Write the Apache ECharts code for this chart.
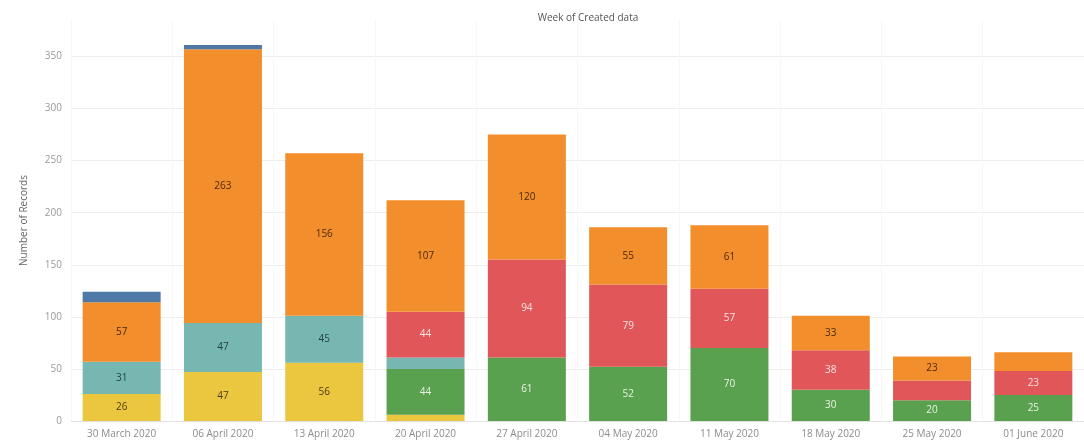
<!DOCTYPE html>
<html>
<head>
<meta charset="utf-8">
<script src="https://cdn.jsdelivr.net/npm/echarts@6/dist/echarts.min.js"></script>
<style>
  html, body { margin: 0; padding: 0; background: #fff; }
  #chart { width: 1084px; height: 443px; }
</style>
</head>
<body>
<div id="chart"></div>
<script>
  // weeks on the x axis
  var weeks = ['30 March 2020', '06 April 2020', '13 April 2020', '20 April 2020', '27 April 2020',
    '04 May 2020', '11 May 2020', '18 May 2020', '25 May 2020', '01 June 2020']
  // stacked segments, bottom to top
  var yellowVals = [26, 47, 56, 6, '-', '-', '-', '-', '-', '-']
  var greenVals = ['-', '-', '-', 44, 61, 52, 70, 30, 20, 25]
  var tealVals = [31, 47, 45, 11, '-', '-', '-', '-', '-', '-']
  var redVals = ['-', '-', '-', 44, 94, 79, 57, 38, 19, 23]
  var orangeVals = [57, 263, 156, 107, 120, 55, 61, 33, 23, 18]
  var blueVals = [10, 4, '-', '-', '-', '-', '-', '-', '-', '-']
  var yTicks = [0, 50, 100, 150, 200, 250, 300, 350]

  var font = 'Open Sans'

  function seg (name, data, color, textColor) {
    return {
      name: name,
      type: 'bar',
      stack: 'total',
      data: data,
      barWidth: 78,
      itemStyle: { color: color },
      label: {
        show: true,
        position: 'inside',
        color: textColor,
        fontFamily: font,
        fontSize: 10,
        formatter: function (p) {
          return p.value >= 20 ? p.value : ''
        }
      }
    }
  }

  var chart = echarts.init(document.getElementById('chart'))
  chart.setOption({
    animation: false,
    textStyle: { fontFamily: font },
    title: {
      text: 'Week of Created data',
      left: 583,
      top: 8,
      textAlign: 'center',
      textStyle: { fontSize: 10, fontWeight: 'normal', color: '#555', fontFamily: font }
    },
    grid: { left: 71, right: -12, top: 20, bottom: 22 },
    xAxis: {
      type: 'category',
      data: weeks,
      axisLine: { lineStyle: { color: '#e2e2e2' } },
      axisTick: { show: false },
      splitLine: { show: true, lineStyle: { color: '#f7f7f7' } },
      axisLabel: { color: '#8c8c8c', fontSize: 10, margin: 8, interval: 0, fontFamily: font }
    },
    yAxis: {
      type: 'value',
      min: 0,
      max: 385,
      interval: 50,
      name: 'Number of Records',
      nameLocation: 'middle',
      nameGap: 42,
      nameTextStyle: { color: '#666', fontSize: 10, fontFamily: font },
      axisLine: { show: false },
      axisTick: { show: false },
      splitLine: { showMaxLine: false, lineStyle: { color: '#eeeeee' } },
      axisLabel: {
        color: '#999',
        fontSize: 10,
        margin: 9,
        showMaxLabel: false,
        fontFamily: font,
        formatter: function (v) {
          return yTicks.indexOf(v) >= 0 ? v : ''
        }
      }
    },
    series: [
      seg('yellow', yellowVals, '#EBC73F', '#4a3b10'),
      seg('green', greenVals, '#59A14F', '#e8f3e4'),
      seg('teal', tealVals, '#76B7B2', '#1f3f3c'),
      seg('red', redVals, '#E15759', '#fbe3e3'),
      seg('orange', orangeVals, '#F28E2B', '#4a2a08'),
      seg('blue', blueVals, '#4E79A7', '#fff')
    ]
  })
</script>
</body>
</html>
